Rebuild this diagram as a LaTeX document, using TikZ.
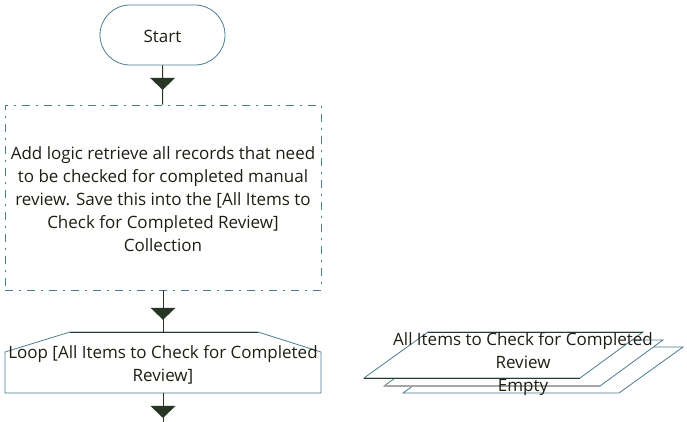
\documentclass[tikz,border=0pt]{standalone}
\usepackage{fontspec}
\setmainfont{Open Sans}
\usetikzlibrary{decorations.markings}
\definecolor{edge}{HTML}{4A7D8E}
\definecolor{flowc}{HTML}{263623}
\definecolor{txt}{HTML}{1E1E14}
\definecolor{darkedge}{HTML}{2A3A2A}
\begin{document}
\begin{tikzpicture}[x=1pt,y=-1pt,
  lbl/.style={font=\fontsize{17}{23}\selectfont, text=txt, align=center, inner sep=0pt},
  outline/.style={draw=edge, line width=0.8pt},
  flow/.style={draw=flowc, line width=1pt, postaction={decorate},
    decoration={markings, mark=at position #1 with {\fill[flowc] (-12pt,-12.5pt) -- (0pt,0pt) -- (-12pt,12.5pt) -- cycle;}}},
  ]
\useasboundingbox (0,0) rectangle (687,422);
% start terminator
\node[outline, rounded corners=30pt, minimum width=125pt, minimum height=60pt] (start) at (162.5,35) {};
\node[lbl] (starttext) at (162.5,36) {Start};
% action box
\node[outline, dash pattern=on 8pt off 6pt on 2pt off 6pt, minimum width=316pt, minimum height=185pt] (act) at (163,197.5) {};
\node[lbl] (acttext) at (163,199)
  {Add logic retrieve all records that need\\to be checked for completed manual\\review. Save this into the [All Items to\\Check for Completed Review]\\Collection};
% loop shape
\draw[outline] (70,332) -- (258,332) -- (321,352) -- (321,393) -- (5,393) -- (5,352) -- cycle;
\draw[draw=darkedge, line width=0.8pt] (70,332) -- (258,332);
\node[minimum width=316pt, minimum height=61pt, inner sep=0pt] (loop) at (163,362.5) {};
\node[lbl] (looptext) at (163,364.5) {Loop [All Items to Check for Completed\\Review]};
\coordinate (end) at (163,422);
% connectors
\draw[flow=0.625] (start) -- (act);
\draw[flow=0.71] (act) -- (loop);
\draw[flow=0.86] (loop) -- (end);
% collection (stacked parallelograms)
\draw[outline, fill=white] (403,393) -- (619,393) -- (683,347) -- (467,347) -- cycle;
\draw[outline, fill=white] (384,386) -- (600,386) -- (663,340) -- (448,340) -- cycle;
\draw[draw=gray!70, line width=1.6pt] (384,386) -- (600,386);
\draw[outline, fill=white] (364,378) -- (580,378) -- (643,332) -- (428,332) -- cycle;
\draw[draw=darkedge, line width=0.8pt] (364,378) -- (580,378) (643,332) -- (428,332);
\node[lbl] (coll) at (523,364) {All Items to Check for Completed\\Review\\Empty};
\end{tikzpicture}
\end{document}
